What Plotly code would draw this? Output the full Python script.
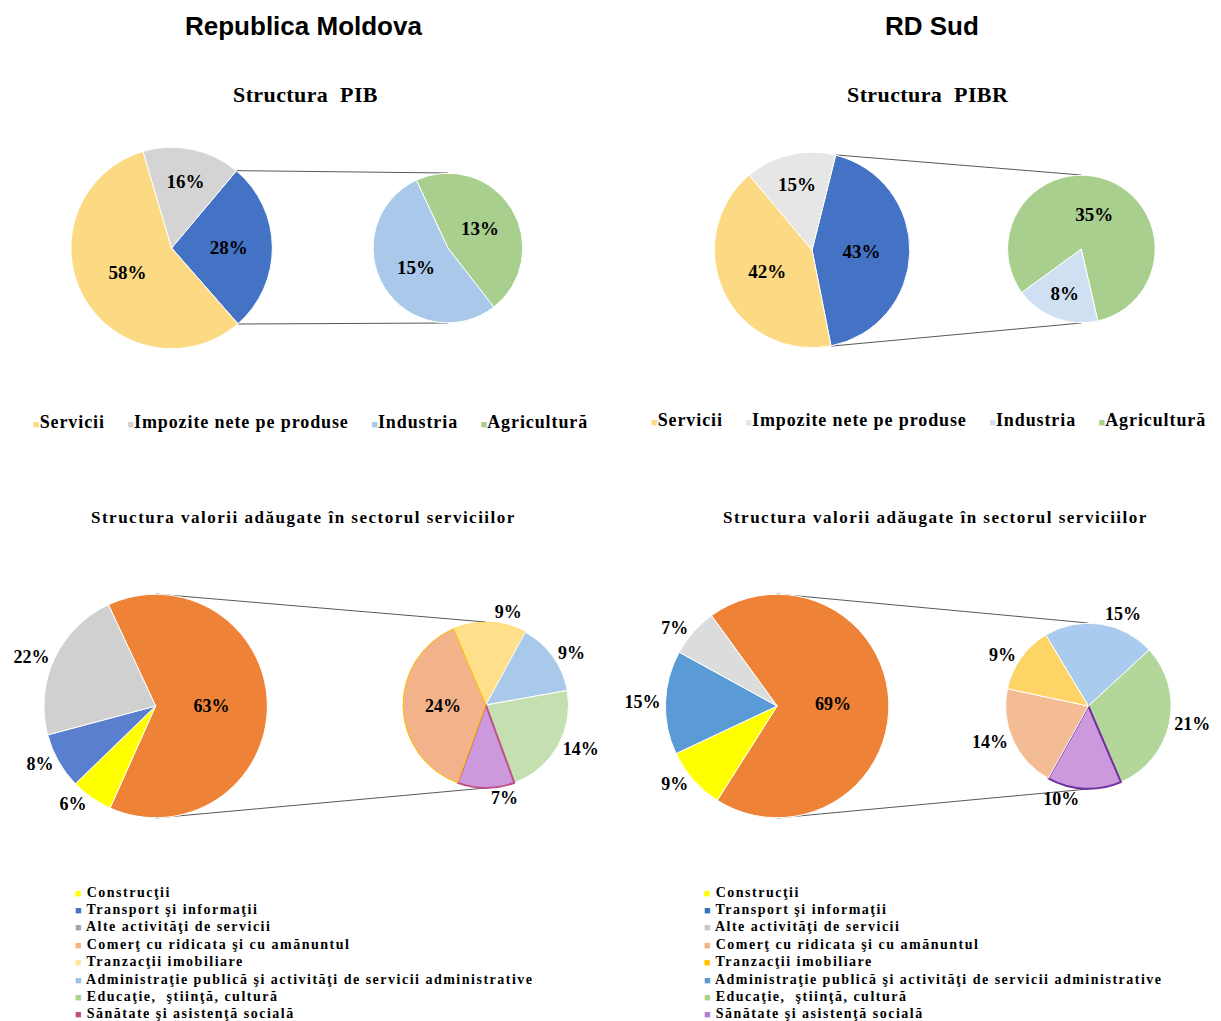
import numpy as np
import plotly.graph_objects as go

# The page body keeps its default 8px margin, so all positions below are
# screen pixels converted to paper coordinates with that offset removed.
W, H = 1229, 1021
OFF = 8

# ---------------- data ----------------
md_pib_main_labels = ["Industria + Agricultură", "Servicii", "Impozite nete pe produse"]
md_pib_main_values = [28, 58, 16]
md_pib_main_text = ["28%", "58%", "16%"]
md_pib_sub_labels = ["Agricultură", "Industria"]
md_pib_sub_values = [13, 15]
md_pib_sub_text = ["13%", "15%"]

sud_pib_main_labels = ["Industria + Agricultură", "Servicii", "Impozite nete pe produse"]
sud_pib_main_values = [43, 42, 15]
sud_pib_main_text = ["43%", "42%", "15%"]
sud_pib_sub_labels = ["Industria", "Agricultură"]
sud_pib_sub_values = [8, 35]
sud_pib_sub_text = ["8%", "35%"]

md_srv_main_labels = ["Alte servicii (detaliat)", "Construcţii", "Transport şi informaţii", "Alte activităţi de servicii"]
md_srv_main_values = [63, 6, 8, 22]
md_srv_main_text = ["63%", "6%", "8%", "22%"]
md_srv_sub_labels = ["Tranzacţii imobiliare", "Administraţie publică şi activităţi de servicii administrative",
                     "Educaţie, ştiinţă, cultură", "Sănătate şi asistenţă socială", "Comerţ cu ridicata şi cu amănuntul"]
md_srv_sub_values = [9, 9, 14, 7, 24]
md_srv_sub_text = ["9%", "9%", "14%", "7%", "24%"]

sud_srv_main_labels = ["Alte servicii (detaliat)", "Construcţii", "Transport şi informaţii", "Alte activităţi de servicii"]
sud_srv_main_values = [69, 9, 15, 7]
sud_srv_main_text = ["69%", "9%", "15%", "7%"]
sud_srv_sub_labels = ["Administraţie publică şi activităţi de servicii administrative", "Educaţie, ştiinţă, cultură",
                      "Sănătate şi asistenţă socială", "Comerţ cu ridicata şi cu amănuntul", "Tranzacţii imobiliare"]
sud_srv_sub_values = [15, 21, 10, 14, 9]
sud_srv_sub_text = ["15%", "21%", "10%", "14%", "9%"]

pib_legend_labels = ["Servicii", "Impozite nete pe produse", "Industria", "Agricultură"]
srv_legend_labels = ["Construcţii", "Transport şi informaţii", "Alte activităţi de servicii",
                     "Comerţ cu ridicata şi cu amănuntul", "Tranzacţii imobiliare",
                     "Administraţie publică şi activităţi de servicii administrative",
                     "Educaţie,  ştiinţă, cultură", "Sănătate şi asistenţă socială"]

# ---------------- styling ----------------
SERIF = "Liberation Serif"
SANS = "Liberation Sans"

C_SERV = "#fcd983"
C_IMP = "#d4d4d4"
C_IMP2 = "#e6e6e6"
C_BLUE = "#4472c4"
C_IND = "#a9c8ea"
C_IND2 = "#cfe0f3"
C_AGR = "#a8cf8e"

md_pib_main_colors = [C_BLUE, C_SERV, C_IMP]
md_pib_sub_colors = [C_AGR, C_IND]
sud_pib_main_colors = [C_BLUE, C_SERV, C_IMP2]
sud_pib_sub_colors = [C_IND2, C_AGR]

md_srv_main_colors = ["#ee8236", "#ffff00", "#5a7fcf", "#d0d0d0"]
md_srv_sub_colors = ["#ffe08a", "#a8c9ea", "#c5e0b0", "#cc99dd", "#f3b38a"]
sud_srv_main_colors = ["#ee8236", "#ffff00", "#5b9bd5", "#dcdcdc"]
sud_srv_sub_colors = ["#a9cbee", "#b3d69b", "#cc99dd", "#f4bc94", "#ffd466"]

md_pib_legend_colors = [C_SERV, C_IMP, C_IND, C_AGR]
sud_pib_legend_colors = [C_SERV, C_IMP2, C_IND2, C_AGR]
md_srv_legend_colors = ["#ffff00", "#4472c4", "#a6a6a6", "#f4b183", "#ffe699", "#9dc3e6", "#a9d18e", "#c0508a"]
sud_srv_legend_colors = ["#ffff00", "#2e75b6", "#c8c8c8", "#f4b183", "#ffc000", "#5b9bd5", "#a9d18e", "#b57fd0"]


def fx(x):
    return (x - OFF) / W


def fy(y):
    return 1 - (y - OFF) / H


def domain(cx, cy, r):
    return dict(x=[fx(cx - r), fx(cx + r)], y=[fy(cy + r), fy(cy - r)])


fig = go.Figure()


def add_pie(labels, values, text, colors, cx, cy, r, rotation, positions, size, line_colors=None, line_widths=None):
    fig.add_trace(go.Pie(
        labels=labels, values=values, text=text, texttemplate="%{text}",
        sort=False, direction="clockwise", rotation=rotation,
        domain=domain(cx, cy, r), showlegend=False,
        marker=dict(colors=colors,
                    line=dict(color=line_colors or "white", width=line_widths if line_widths is not None else 1)),
        textposition=positions, insidetextorientation="horizontal",
        textfont=dict(family=SERIF, size=size, color="black", weight="bold"),
        outsidetextfont=dict(family=SERIF, size=size, color="black", weight="bold"),
        hoverinfo="label+text",
    ))


def connectors(main_values, cx, cy, r, rotation, idx, scx, scy, sr):
    total = sum(main_values)
    a0 = rotation + 360.0 * sum(main_values[:idx]) / total
    a1 = a0 + 360.0 * main_values[idx] / total
    ang = np.radians(np.linspace(a0, a1, 721))
    xs = cx + r * np.sin(ang)
    ys = cy - r * np.cos(ang)
    it, ib = int(np.argmin(ys)), int(np.argmax(ys))
    for (x0, y0, x1, y1) in [(xs[it], ys[it], scx, scy - sr), (xs[ib], ys[ib], scx, scy + sr)]:
        fig.add_shape(type="line", xref="paper", yref="paper",
                      x0=fx(x0), y0=fy(y0), x1=fx(x1), y1=fy(y1),
                      line=dict(color="#595959", width=1), layer="below")


# ---- top-left ----
g = dict(cx=169, cy=248, r=101, rot=40, scx=446, scy=248, sr=75)
add_pie(md_pib_main_labels, md_pib_main_values, md_pib_main_text, md_pib_main_colors,
        g["cx"], g["cy"], g["r"], g["rot"], "inside", 19)
add_pie(md_pib_sub_labels, md_pib_sub_values, md_pib_sub_text, md_pib_sub_colors,
        g["scx"], g["scy"], g["sr"], -25, "inside", 19)
connectors(md_pib_main_values, g["cx"], g["cy"], g["r"], g["rot"], 0, g["scx"], g["scy"], g["sr"])

# ---- top-right ----
g = dict(cx=811, cy=250, r=98, rot=14, scx=1081, scy=249, sr=74)
add_pie(sud_pib_main_labels, sud_pib_main_values, sud_pib_main_text, sud_pib_main_colors,
        g["cx"], g["cy"], g["r"], g["rot"], "inside", 19)
add_pie(sud_pib_sub_labels, sud_pib_sub_values, sud_pib_sub_text, sud_pib_sub_colors,
        g["scx"], g["scy"], g["sr"], 167, "inside", 19)
connectors(sud_pib_main_values, g["cx"], g["cy"], g["r"], g["rot"], 0, g["scx"], g["scy"], g["sr"])

# ---- bottom-left ----
g = dict(cx=153, cy=706, r=112, rot=-25, scx=484, scy=705, sr=83)
add_pie(md_srv_main_labels, md_srv_main_values, md_srv_main_text, md_srv_main_colors,
        g["cx"], g["cy"], g["r"], g["rot"], ["inside", "outside", "outside", "outside"], 18)
add_pie(md_srv_sub_labels, md_srv_sub_values, md_srv_sub_text, md_srv_sub_colors,
        g["scx"], g["scy"], g["sr"], -23, ["outside", "outside", "outside", "outside", "inside"], 18,
        line_colors=["#ffd966", "white", "white", "#c0508a", "#ffc000"], line_widths=[1, 1, 1, 2, 1])
connectors(md_srv_main_values, g["cx"], g["cy"], g["r"], g["rot"], 0, g["scx"], g["scy"], g["sr"])

# ---- bottom-right ----
g = dict(cx=776, cy=706, r=112, rot=-36, scx=1088, scy=706, sr=83)
add_pie(sud_srv_main_labels, sud_srv_main_values, sud_srv_main_text, sud_srv_main_colors,
        g["cx"], g["cy"], g["r"], g["rot"], ["inside", "outside", "outside", "outside"], 18)
add_pie(sud_srv_sub_labels, sud_srv_sub_values, sud_srv_sub_text, sud_srv_sub_colors,
        g["scx"], g["scy"], g["sr"], -31, "outside", 18,
        line_colors=["white", "white", "#7030a0", "white", "white"], line_widths=[1, 1, 2, 1, 1])
connectors(sud_srv_main_values, g["cx"], g["cy"], g["r"], g["rot"], 0, g["scx"], g["scy"], g["sr"])


# ---------------- titles ----------------
def ann(text, x, y, size, family, xanchor="center", color="black", weight="bold"):
    fig.add_annotation(text=text, x=fx(x), y=fy(y), xref="paper", yref="paper",
                       xanchor=xanchor, yanchor="middle", showarrow=False,
                       font=dict(family=family, size=size, color=color, weight=weight))


def spaced(text, px):
    return "<span style='letter-spacing:%spx'>%s</span>" % (px, text)


ann("Republica Moldova", 301, 26, 26, SANS)
ann("RD Sud", 931, 26, 26, SANS)
ann(spaced("Structura  PIB", 0.4), 303, 94, 22, SERIF)
ann(spaced("Structura  PIBR", 0.4), 927, 94, 22, SERIF)
ann(spaced("Structura valorii adăugate în sectorul serviciilor", 1.5), 301, 517, 17, SERIF)
ann(spaced("Structura valorii adăugate în sectorul serviciilor", 1.5), 935, 517, 17, SERIF)


# ---------------- legends ----------------
def sq(color):
    return "<span style='font-size:11px;color:%s'>■</span>" % color


def hlegend(labels, colors, cx, y):
    parts = [sq(c) + spaced(l, 0.9) for l, c in zip(labels, colors)]
    ann("     ".join(parts), cx, y, 18, SERIF)


hlegend(pib_legend_labels, md_pib_legend_colors, 308, 422)
hlegend(pib_legend_labels, sud_pib_legend_colors, 928, 420)


def vlegend(labels, colors, x, y0, dy):
    for i, (l, c) in enumerate(zip(labels, colors)):
        t = sq(c) + spaced(" " + l, 1.5)
        ann(t, x, y0 + i * dy, 14, SERIF, xanchor="left")


vlegend(srv_legend_labels, md_srv_legend_colors, 70, 892, 17.4)
vlegend(srv_legend_labels, sud_srv_legend_colors, 701, 892, 17.4)

fig.update_layout(width=W, height=H, autosize=False, margin=dict(l=0, r=0, t=0, b=0),
                  paper_bgcolor="white", plot_bgcolor="white", showlegend=False)

fig.write_html("out.html", config={"displayModeBar": False})
